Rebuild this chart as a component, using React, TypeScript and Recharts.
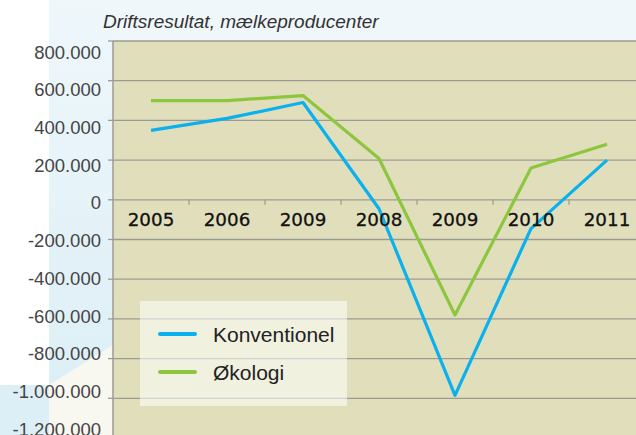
import React from 'react';
import { LineChart, Line, XAxis, YAxis, CartesianGrid, Legend } from 'recharts';

const categories = ['2005', '2006', '2009', '2008', '2009', '2010', '2011'];
const konventionel = [350000, 410000, 490000, -45000, -985000, -145000, 200000];
const okologi = [500000, 500000, 525000, 208000, -580000, 160000, 280000];
const yTicks = [800000, 600000, 400000, 200000, 0, -200000, -400000, -600000, -800000, -1000000, -1200000];
const seriesNames = ['Konventionel', 'Økologi'];
const title = 'Driftsresultat, mælkeproducenter';

const data = categories.map((c, i) => ({
  key: String(i),
  label: c,
  konv: konventionel[i],
  oko: okologi[i],
}));

const W = 660;
const H = 445;
const XH = 2;
const M = { top: 41, right: 15, bottom: 5, left: 0 };
const YW = 113;
const PLOT_W = W - M.left - M.right - YW;
const PLOT_H = H - M.top - M.bottom - XH;
const Y_MIN = -1200000;
const Y_MAX = 800000;
const ZERO_Y = M.top + PLOT_H * (Y_MAX / (Y_MAX - Y_MIN));
const HALF = PLOT_W / categories.length / 2;

const BLUE = '#0bb0ee';
const GREEN = '#8cc63f';
const GRID = '#9c9b93';
const PLOT_BG = '#e1dfbb';

const fmt = (v: number) => {
  const s = Math.abs(v).toString().replace(/\B(?=(\d{3})+(?!\d))/g, '.');
  return (v < 0 ? '-' : '') + s;
};

const XTick = (props: any) => {
  const { x, index, payload } = props;
  const i = typeof index === 'number' ? index : Number(payload && payload.value);
  return (
    <g>
      <text
        x={x}
        y={ZERO_Y + 26}
        textAnchor="middle"
        fontFamily="'DejaVu Sans', sans-serif"
        fontSize={18.3}
        fill="#111"
        stroke="#111"
        strokeWidth={0.3}
      >
        {categories[i]}
      </text>
      {i < categories.length - 1 && (
        <line x1={x + HALF} x2={x + HALF} y1={ZERO_Y} y2={ZERO_Y + 5} stroke={GRID} strokeWidth={1.3} />
      )}
    </g>
  );
};

const YTick = (props: any) => {
  const { x, y, payload } = props;
  const ly = ZERO_Y + 3 + 0.95 * (y - ZERO_Y);
  return (
    <text
      x={x - 5}
      y={ly + 6.6}
      textAnchor="end"
      fontFamily="'Liberation Sans', Arial, sans-serif"
      fontSize={18.5}
      fill="#454545"
    >
      {fmt(payload.value)}
    </text>
  );
};

const LegendContent = (props: any) => {
  const { payload } = props;
  return (
    <div style={{ width: 207, height: 105, background: 'rgba(255,255,255,0.55)', paddingTop: 14, boxSizing: 'border-box' }}>
      {(payload || []).map((p: any) => (
        <div key={p.value} style={{ display: 'flex', alignItems: 'center', height: 38 }}>
          <span
            style={{
              display: 'inline-block',
              width: 39,
              height: 4,
              borderRadius: 2,
              background: p.color,
              marginLeft: 18,
              marginRight: 16,
            }}
          />
          <span style={{ fontFamily: "'Liberation Sans', Arial, sans-serif", fontSize: 21, lineHeight: 1, color: '#222' }}>
            {p.value}
          </span>
        </div>
      ))}
    </div>
  );
};

export default function App() {
  return (
    <div style={{ position: 'absolute', left: 0, top: 0, width: 636, height: 435, overflow: 'hidden', background: '#ffffff' }}>
      <div style={{ position: 'absolute', left: 49, top: 0, width: 587, height: 41, background: '#eff7fb' }} />
      <div style={{ position: 'absolute', left: 49, top: 0, width: 64, height: 385, background: 'linear-gradient(#eff7fb, #ddeff6)' }} />
      <div style={{ position: 'absolute', left: 0, top: 385, width: 49, height: 50, background: '#ddeff6' }} />
      <div
        style={{
          position: 'absolute',
          left: 49,
          top: 335,
          width: 64,
          height: 100,
          background: '#f8f7f0',
          clipPath: 'polygon(0px 50px, 64px 10px, 64px 100px, 0px 100px)',
        }}
      />
      <div
        style={{
          position: 'absolute',
          left: 103,
          top: 10.5,
          fontFamily: "'Liberation Sans', Arial, sans-serif",
          fontStyle: 'italic',
          fontSize: 19,
          color: '#333',
          whiteSpace: 'nowrap',
        }}
      >
        {title}
      </div>
      <div style={{ position: 'absolute', left: 0, top: 0 }}>
        <LineChart width={W} height={H} data={data} margin={M}>
          <CartesianGrid vertical={false} stroke={GRID} strokeWidth={1.3} fill={PLOT_BG} fillOpacity={1} />
          <XAxis
            dataKey="key"
            height={XH}
            axisLine={false}
            tickLine={false}
            interval={0}
            padding={{ left: HALF, right: HALF }}
            tick={XTick}
          />
          <YAxis
            type="number"
            width={YW}
            domain={[Y_MIN, Y_MAX]}
            ticks={yTicks}
            interval={0}
            allowDataOverflow
            axisLine={{ stroke: GRID, strokeWidth: 1.5 }}
            tickLine={{ stroke: GRID, strokeWidth: 1.3 }}
            tickSize={5}
            tick={YTick}
          />
          <Legend
            layout="vertical"
            align="center"
            verticalAlign="middle"
            content={<LegendContent />}
            wrapperStyle={{ left: 140, top: 301, width: 207, height: 105 }}
          />
          <Line
            type="linear"
            dataKey="konv"
            name={seriesNames[0]}
            stroke={BLUE}
            strokeWidth={3.2}
            strokeLinejoin="round"
            dot={false}
            activeDot={false}
            isAnimationActive={false}
          />
          <Line
            type="linear"
            dataKey="oko"
            name={seriesNames[1]}
            stroke={GREEN}
            strokeWidth={3.2}
            strokeLinejoin="round"
            dot={false}
            activeDot={false}
            isAnimationActive={false}
          />
        </LineChart>
      </div>
    </div>
  );
}
